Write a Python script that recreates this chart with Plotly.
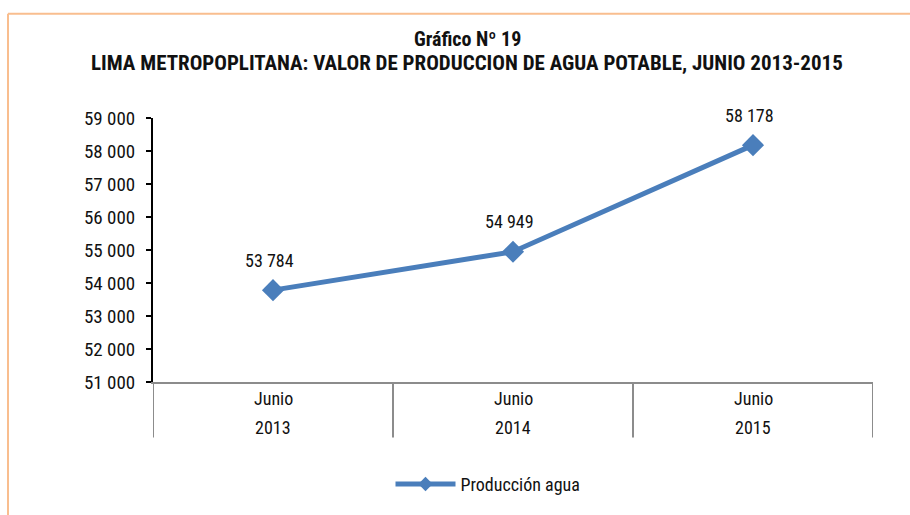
import plotly.graph_objects as go

categories = ["2013", "2014", "2015"]
months = ["Junio", "Junio", "Junio"]
years = ["2013", "2014", "2015"]
values = [53784, 54949, 58178]
y_ticks = [51000, 52000, 53000, 54000, 55000, 56000, 57000, 58000, 59000]

FONT = "Liberation Sans Narrow, Arial Narrow, Roboto Condensed, Arial, sans-serif"
BLUE = "#4A7EBB"
TXT = "#111111"

W, H = 910, 515
L, R, T, B = 153, 37, 118, 126
pw, ph = W - L - R, H - T - B


def px_x(page_x):
    return (page_x - L) / pw


def px_y(page_y):
    return 1 - (page_y - T) / ph


fig = go.Figure()
fig.add_trace(go.Scatter(
    x=list(range(len(categories))), y=values,
    mode="lines+markers",
    name="Producción agua",
    showlegend=False,
    line=dict(color=BLUE, width=5),
    marker=dict(symbol="diamond", size=17, color=BLUE),
    cliponaxis=False,
))
# legend entry (smaller marker, as in the reference legend)
fig.add_trace(go.Scatter(
    x=[None], y=[None], mode="lines+markers", name="Producción agua",
    line=dict(color=BLUE, width=5),
    marker=dict(symbol="diamond", size=11, color=BLUE),
))

shapes = []
for xv in [-0.5, 0.5, 1.5, 2.5]:
    shapes.append(dict(type="line", xref="x", yref="paper", x0=xv, x1=xv,
                       y0=0, y1=px_y(446), line=dict(color="#8c8c8c", width=2)))
bx, by = px_x(8), px_y(11)
shapes.append(dict(type="line", xref="paper", yref="paper", x0=bx, x1=bx + 2, y0=by, y1=by,
                   line=dict(color="#F9BE8F", width=2)))
shapes.append(dict(type="line", xref="paper", yref="paper", x0=bx, x1=bx, y0=by, y1=-1,
                   line=dict(color="#F9BE8F", width=2)))

annotations = []
for i, v in enumerate(values):
    annotations.append(dict(x=i - 0.015, y=v, xref="x", yref="y",
                            text=f"{v:,}".replace(",", " "), showarrow=False,
                            yshift=30, yanchor="middle",
                            font=dict(family=FONT, size=18, color=TXT)))
for i, (m, yr) in enumerate(zip(months, years)):
    annotations.append(dict(x=i, xref="x", yref="paper", y=px_y(406), text=m,
                            showarrow=False, yanchor="middle",
                            font=dict(family=FONT, size=18, color=TXT)))
    annotations.append(dict(x=i, xref="x", yref="paper", y=px_y(436), text=yr,
                            showarrow=False, yanchor="middle",
                            font=dict(family=FONT, size=18, color=TXT)))
annotations.append(dict(xref="paper", yref="paper", x=px_x(467), y=px_y(37),
                        text="<b>Gráfico Nº 19</b>", showarrow=False, yanchor="middle",
                        font=dict(family=FONT, size=20, color=TXT)))
annotations.append(dict(xref="paper", yref="paper", x=px_x(467), y=px_y(62),
                        text="<b>LIMA METROPOPLITANA: VALOR DE PRODUCCION DE AGUA POTABLE, JUNIO 2013-2015</b>",
                        showarrow=False, yanchor="middle",
                        font=dict(family=FONT, size=21, color=TXT)))

fig.update_layout(
    width=W, height=H,
    margin=dict(l=L, r=R, t=T, b=B),
    paper_bgcolor="white", plot_bgcolor="white",
    separators=", ",
    showlegend=True,
    legend=dict(orientation="h", x=px_x(488), xanchor="center", y=px_y(494),
                yanchor="middle", font=dict(family=FONT, size=18, color=TXT),
                itemwidth=60),
    xaxis=dict(range=[-0.5, 2.5], showticklabels=False, showgrid=False, zeroline=False,
               showline=True, linecolor="#8c8c8c", linewidth=2, ticks=""),
    yaxis=dict(range=[51000, 59000], tickvals=y_ticks, tickformat=",", showgrid=False,
               zeroline=False, showline=True, linecolor="black", linewidth=2,
               ticks="outside", ticklen=5, tickcolor="black", tickwidth=2,
               ticklabelstandoff=7,
               tickfont=dict(family=FONT, size=19, color=TXT)),
    shapes=shapes,
    annotations=annotations,
)

fig.write_html("out.html", config={"displayModeBar": False},
               post_script="document.body.style.margin='0';document.body.style.overflow='hidden';")
